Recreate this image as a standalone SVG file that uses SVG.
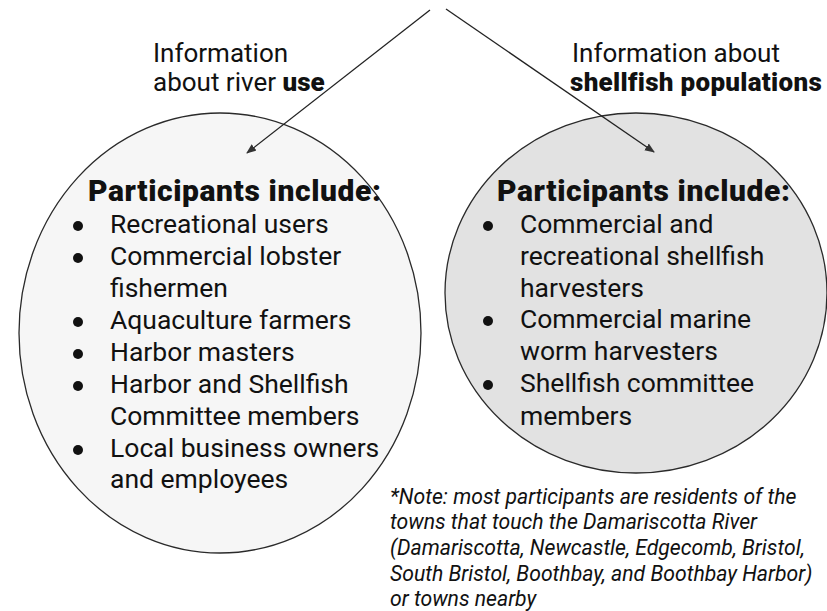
<svg xmlns="http://www.w3.org/2000/svg" width="827" height="611" viewBox="0 0 827 611">
<defs>
<marker id="ah" viewBox="0 0 10 10" refX="9" refY="5" markerWidth="10" markerHeight="10" markerUnits="userSpaceOnUse" orient="auto">
<path d="M0,1 L10,5 L0,9 Z" fill="#333"/>
</marker>
<style>
text{font-family:Roboto,"Liberation Sans",sans-serif;fill:#111}
.lbl{font-size:26px}
.hd{font-size:30px;font-weight:900;letter-spacing:0.6px}
.it{font-size:26.5px}
.note{font-size:21.2px;font-style:italic}
.b{font-weight:900}
.sp{letter-spacing:0.3px}
.circ{stroke:#2a2a2a;stroke-width:1.3}
.bul{fill:#111}
</style>
</defs>
<rect width="827" height="611" fill="#fff"/>
<g id="left-node">
<ellipse class="circ" cx="220" cy="333" rx="201" ry="220" fill="#f6f6f6"/>
<text class="hd" x="88" y="201">Participants include:</text>
<g class="bul"><circle cx="78" cy="226" r="5"/><circle cx="78" cy="258" r="5"/><circle cx="78" cy="322" r="5"/><circle cx="78" cy="354" r="5"/><circle cx="78" cy="386" r="5"/><circle cx="78" cy="450" r="5"/></g>
<text class="it" x="110" y="233">Recreational users</text>
<text class="it" x="110" y="265">Commercial lobster</text>
<text class="it" x="110" y="297">fishermen</text>
<text class="it" x="110" y="329">Aquaculture farmers</text>
<text class="it" x="110" y="361">Harbor masters</text>
<text class="it" x="110" y="393">Harbor and Shellfish</text>
<text class="it" x="110" y="425">Committee members</text>
<text class="it" x="110" y="457">Local business owners</text>
<text class="it" x="110" y="488">and employees</text>
</g>
<g id="right-node">
<ellipse class="circ" cx="636" cy="293" rx="191" ry="180" fill="#e2e2e2"/>
<text class="hd" x="497" y="201">Participants include:</text>
<g class="bul"><circle cx="488" cy="226" r="5"/><circle cx="488" cy="321" r="5"/><circle cx="488" cy="385" r="5"/></g>
<text class="it" x="520" y="233">Commercial and</text>
<text class="it" x="520" y="265">recreational shellfish</text>
<text class="it" x="520" y="297">harvesters</text>
<text class="it" x="520" y="328">Commercial marine</text>
<text class="it" x="520" y="360">worm harvesters</text>
<text class="it" x="520" y="392">Shellfish committee</text>
<text class="it" x="520" y="425">members</text>
</g>
<g id="label-left">
<text class="lbl" x="153" y="62">Information</text>
<text class="lbl" x="153" y="91">about river <tspan class="b">use</tspan></text>
</g>
<g id="label-right">
<text class="lbl" x="572" y="62">Information about</text>
<text class="lbl b sp" x="570" y="91">shellfish populations</text>
</g>
<g id="connectors" stroke="#222" stroke-width="1.3" fill="none">
<line x1="430" y1="10" x2="247" y2="153" marker-end="url(#ah)"/>
<line x1="446" y1="9" x2="654" y2="152" marker-end="url(#ah)"/>
</g>
<g id="note">
<text class="note" x="390" y="504">*Note: most participants are residents of the</text>
<text class="note" x="390" y="529">towns that touch the Damariscotta River</text>
<text class="note" x="390" y="555">(Damariscotta, Newcastle, Edgecomb, Bristol,</text>
<text class="note" x="390" y="581">South Bristol, Boothbay, and Boothbay Harbor)</text>
<text class="note" x="390" y="606">or towns nearby</text>
</g>
</svg>
